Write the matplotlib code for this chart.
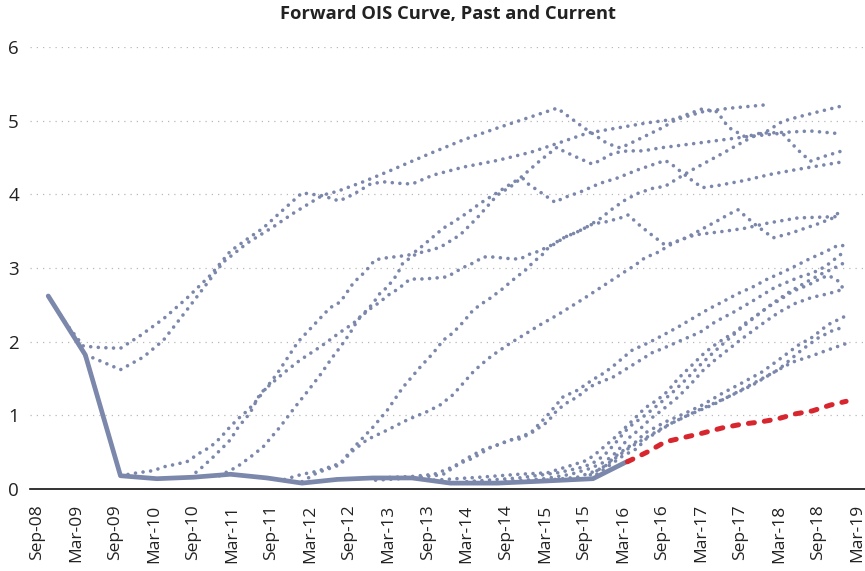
import matplotlib
matplotlib.use("Agg")
import matplotlib.pyplot as plt

# x values are months after Sep-2008, y values are percent
BLUE = "#7b87ab"
RED = "#d8262f"
GRID = "#b8b8b8"

TICK_LABELS = ["Sep-08", "Mar-09", "Sep-09", "Mar-10", "Sep-10", "Mar-11", "Sep-11",
               "Mar-12", "Sep-12", "Mar-13", "Sep-13", "Mar-14", "Sep-14", "Mar-15",
               "Sep-15", "Mar-16", "Sep-16", "Mar-17", "Sep-17", "Mar-18", "Sep-18", "Mar-19"]

# realised overnight rate
realised_t = [1.7, 7.4, 12.8, 18.4, 24.0, 29.7, 35.3, 40.7, 46.1, 51.6, 57.6, 63.5, 70.7, 78.4, 85.4, 90.8]
realised_v = [2.62, 1.82, 0.18, 0.14, 0.16, 0.20, 0.15, 0.08, 0.13, 0.15, 0.15, 0.08, 0.08, 0.11, 0.14, 0.38]

# current forward curve
current_t = [90.7, 93.7, 96.5, 102.3, 105.3, 108.3, 111.1, 113.7, 116.5, 119.1, 121.9, 124.3]
current_v = [0.37, 0.50, 0.64, 0.76, 0.83, 0.88, 0.91, 0.95, 1.02, 1.06, 1.14, 1.19]

# past forward curves
fwd_nov08_t = [1.7, 4.4, 7.1, 9.7, 12.8, 15.8, 19.4, 23.0, 26.6, 29.7, 32.7, 34.7, 37.8, 40.7, 43.9,
               46.4, 48.6, 51.2, 53.2, 55.5, 57.6, 60.8, 65.5, 70.7, 75.8, 79.9, 84.5, 89.1, 93.7,
               98.8, 102.2, 106.5, 112.6]
fwd_nov08_v = [2.62, 2.25, 1.94, 1.92, 1.91, 2.08, 2.31, 2.59, 2.90, 3.23, 3.42, 3.54, 3.79, 4.02, 3.98,
               3.91, 4.00, 4.14, 4.17, 4.15, 4.14, 4.26, 4.37, 4.46, 4.57, 4.69, 4.83, 4.90, 4.97,
               5.03, 5.12, 5.17, 5.22]

fwd_may09_t = [7.4, 8.6, 12.8, 16.3, 19.4, 23.0, 26.1, 28.6, 32.3, 36.3, 39.3, 43.9, 46.1, 50.1, 54.2,
               57.6, 60.8, 65.5, 70.7, 75.8, 79.9, 83.9, 87.6, 89.6, 91.1, 96.2, 98.8, 102.2, 104.5,
               106.2, 108.8, 111.1, 114.5, 118.8, 123.7]
fwd_may09_v = [1.80, 1.78, 1.62, 1.79, 2.02, 2.43, 2.79, 3.08, 3.34, 3.56, 3.74, 3.99, 4.04, 4.17, 4.32,
               4.45, 4.57, 4.74, 4.90, 5.05, 5.17, 4.91, 4.69, 4.63, 4.69, 4.91, 5.05, 5.16, 5.12,
               4.91, 4.78, 4.83, 4.84, 4.86, 4.82]

fwd_nov09_t = [12.8, 15.4, 17.9, 19.4, 21.0, 23.0, 25.0, 26.6, 28.1, 29.7, 31.2, 32.4, 33.8, 36.9, 40.1,
               43.5, 45.0, 46.6, 48.6, 50.4, 51.9, 53.8, 55.8, 57.3, 58.4, 60.4, 62.4, 63.9, 66.1,
               68.1, 70.1, 72.2, 74.2, 77.3, 79.9, 80.8, 83.0, 85.3, 86.5, 88.5, 90.7, 93.1, 95.7,
               101.9, 108.8, 114.5, 116.8, 118.8, 121.1, 123.7]
fwd_nov09_v = [0.18, 0.22, 0.25, 0.30, 0.33, 0.37, 0.49, 0.57, 0.69, 0.85, 0.98, 1.07, 1.21, 1.57, 2.00,
               2.32, 2.46, 2.54, 2.80, 2.95, 3.11, 3.14, 3.16, 3.18, 3.24, 3.39, 3.54, 3.62, 3.75,
               3.88, 3.99, 4.11, 4.22, 4.46, 4.64, 4.59, 4.50, 4.41, 4.46, 4.56, 4.59, 4.59, 4.63,
               4.70, 4.78, 4.83, 4.61, 4.45, 4.52, 4.59]

fwd_may10_t = [23.5, 25.4, 27.0, 28.6, 29.7, 30.9, 32.7, 34.3, 37.8, 40.4, 43.5, 46.6, 48.6, 50.7, 51.6,
               52.7, 53.8, 55.3, 56.2, 58.4, 59.9, 61.9, 65.0, 67.6, 70.7, 73.0, 74.5, 75.3, 77.3,
               79.6, 80.8, 83.4, 86.5, 89.1, 92.2, 96.5, 97.6, 100.3, 102.2, 104.6, 108.8, 112.6,
               116.9, 123.7]
fwd_may10_v = [0.16, 0.30, 0.43, 0.57, 0.67, 0.84, 1.03, 1.30, 1.57, 1.75, 1.93, 2.13, 2.25, 2.43, 2.52,
               2.66, 2.74, 2.91, 3.07, 3.20, 3.23, 3.28, 3.45, 3.68, 3.99, 4.12, 4.23, 4.15, 4.03,
               3.89, 3.95, 4.03, 4.15, 4.22, 4.33, 4.46, 4.40, 4.21, 4.09, 4.12, 4.19, 4.27,
               4.34, 4.44]

fwd_nov10_t = [28.0, 30.7, 32.7, 34.7, 37.3, 39.6, 41.5, 43.5, 45.3, 46.6, 48.1, 49.3, 50.9, 52.7, 53.9,
               55.0, 55.8, 57.3, 58.9, 60.8, 63.0, 65.3, 67.3, 68.5, 69.9, 72.2, 74.2, 75.4, 76.8,
               78.8, 81.1, 83.0, 85.4, 87.6, 90.0, 90.8, 92.7, 94.7, 96.5, 98.5, 101.1, 105.7,
               108.8, 112.3, 116.9, 123.7]
fwd_nov10_v = [0.18, 0.30, 0.43, 0.57, 0.84, 1.11, 1.32, 1.55, 1.78, 1.93, 2.12, 2.30, 2.43, 2.54, 2.63,
               2.69, 2.74, 2.85, 2.85, 2.86, 2.88, 3.00, 3.08, 3.15, 3.15, 3.13, 3.12, 3.18, 3.22,
               3.30, 3.42, 3.49, 3.60, 3.63, 3.69, 3.72, 3.57, 3.43, 3.31, 3.37, 3.45, 3.50,
               3.54, 3.61, 3.68, 3.70]

fwd_mar12a_t = [38.0, 40.7, 43.0, 46.6, 48.6, 51.6, 53.8, 56.2, 58.9, 60.8, 62.4, 63.9, 65.5, 67.0, 68.4,
                69.6, 71.4, 73.4, 75.3, 76.1, 77.6, 78.5, 79.9, 81.1, 83.0, 84.5, 86.5, 88.5, 90.3,
                92.2, 94.5, 96.5, 98.5, 100.6, 103.1, 105.4, 107.6, 109.9, 112.2, 114.5, 116.9,
                120.0, 123.7]
fwd_mar12a_v = [0.13, 0.20, 0.24, 0.35, 0.56, 0.84, 1.07, 1.38, 1.66, 1.84, 2.02, 2.12, 2.27, 2.43, 2.52,
                2.59, 2.71, 2.86, 2.99, 3.07, 3.18, 3.27, 3.35, 3.42, 3.49, 3.56, 3.67, 3.81, 3.92,
                4.01, 4.08, 4.11, 4.22, 4.33, 4.45, 4.56, 4.67, 4.78, 4.86, 4.99, 5.05,
                5.12, 5.20]

fwd_mar12b_t = [40.7, 43.0, 46.6, 48.1, 50.7, 53.8, 56.9, 59.9, 61.9, 63.9, 65.5, 67.0, 68.1, 69.6, 70.7,
                72.7, 74.2, 77.3, 79.9, 81.9, 83.9, 86.5, 88.4, 90.3, 91.9, 93.4, 95.3, 97.6, 99.9,
                102.2, 104.5, 106.5, 107.7, 108.6, 110.6, 112.3, 113.1, 115.7, 118.0, 120.0, 122.3,
                123.7]
fwd_mar12b_v = [0.10, 0.22, 0.33, 0.49, 0.67, 0.80, 0.94, 1.05, 1.14, 1.28, 1.44, 1.59, 1.68, 1.79, 1.86,
                1.98, 2.06, 2.23, 2.36, 2.47, 2.58, 2.73, 2.84, 2.95, 3.04, 3.14, 3.21, 3.33, 3.42,
                3.53, 3.64, 3.74, 3.79, 3.72, 3.57, 3.46, 3.41, 3.47, 3.54, 3.60, 3.68,
                3.80]

fwd_sep12_t = [46.0, 52.0, 57.6, 61.0, 63.9, 66.1, 68.4, 70.8, 73.0, 74.2, 76.1, 78.4, 79.9, 81.4, 83.0,
               85.0, 86.5, 88.5, 90.7, 92.7, 94.5, 96.2, 98.5, 101.9, 104.2, 107.0, 109.9, 113.4,
               117.2, 119.1, 121.1, 123.7]
fwd_sep12_v = [0.13, 0.15, 0.17, 0.20, 0.30, 0.42, 0.53, 0.60, 0.67, 0.68, 0.77, 0.91, 1.07, 1.17, 1.25,
               1.39, 1.45, 1.52, 1.64, 1.75, 1.85, 1.91, 2.00, 2.13, 2.27, 2.40, 2.55, 2.74,
               2.88, 2.93, 3.02, 3.20]

fwd_mar13_t = [52.0, 57.6, 61.0, 62.4, 65.0, 67.0, 69.6, 71.9, 75.8, 78.4, 80.8, 83.0, 85.3, 87.0, 88.4,
               90.0, 91.5, 93.1, 94.7, 96.2, 98.5, 100.6, 103.1, 105.3, 107.6, 109.9, 112.2, 114.5,
               116.8, 118.8, 121.1, 123.1, 124.3]
fwd_mar13_v = [0.12, 0.15, 0.18, 0.20, 0.35, 0.42, 0.56, 0.64, 0.76, 1.00, 1.25, 1.34, 1.48, 1.57, 1.66,
               1.78, 1.89, 1.95, 2.02, 2.09, 2.20, 2.31, 2.44, 2.54, 2.65, 2.74, 2.85, 2.94,
               3.04, 3.13, 3.22, 3.31, 3.30]

fwd_sep13_t = [61.0, 68.0, 74.0, 78.4, 82.4, 84.5, 86.0, 88.4, 90.8, 93.4, 95.3, 96.8, 98.5, 100.6, 102.2,
               103.7, 105.7, 107.3, 108.8, 110.3, 112.3, 114.5, 116.0, 118.5, 120.0, 121.5, 122.9, 124.2]
fwd_sep13_v = [0.12, 0.16, 0.20, 0.22, 0.33, 0.39, 0.49, 0.67, 0.87, 1.10, 1.21, 1.32, 1.50, 1.68, 1.82,
               1.93, 2.05, 2.13, 2.25, 2.34, 2.47, 2.59, 2.68, 2.77, 2.84, 2.90, 2.84, 2.68]

fwd_mar14_t = [66.0, 74.0, 80.0, 84.0, 86.0, 87.6, 89.0, 90.3, 91.5, 93.4, 95.5, 97.5, 99.5, 101.6, 103.5,
               105.5, 108.0, 110.5, 113.0, 115.5, 118.0, 120.5, 122.5, 124.2]
fwd_mar14_v = [0.10, 0.15, 0.22, 0.30, 0.38, 0.50, 0.64, 0.78, 0.88, 1.00, 1.15, 1.30, 1.47, 1.66, 1.82,
               1.98, 2.17, 2.35, 2.52, 2.67, 2.80, 2.92, 3.00, 3.08]

fwd_sep14_t = [72.0, 78.0, 82.0, 85.0, 87.0, 88.4, 89.6, 91.0, 92.7, 94.2, 96.0, 98.5, 100.6, 102.2, 104.0,
               106.0, 108.0, 110.0, 112.0, 114.0, 116.5, 119.0, 121.5, 124.2]
fwd_sep14_v = [0.10, 0.14, 0.20, 0.28, 0.36, 0.45, 0.56, 0.70, 0.82, 0.95, 1.07, 1.25, 1.44, 1.60, 1.74,
               1.88, 2.02, 2.15, 2.28, 2.40, 2.52, 2.60, 2.65, 2.72]

fwd_mar15_t = [78.4, 83.0, 86.0, 87.6, 88.5, 90.0, 92.0, 93.4, 96.5, 99.6, 102.2, 105.3, 108.3, 111.4,
               114.5, 116.9, 119.1, 121.5, 124.5]
fwd_mar15_v = [0.12, 0.16, 0.25, 0.33, 0.42, 0.52, 0.64, 0.76, 0.91, 1.03, 1.14, 1.30, 1.44, 1.59,
               1.79, 1.95, 2.06, 2.23, 2.36]

fwd_sep15_t = [84.0, 87.0, 88.4, 89.6, 91.0, 92.7, 94.2, 96.5, 100.0, 104.0, 108.3, 113.9, 117.5, 120.0,
               122.2, 124.0]
fwd_sep15_v = [0.14, 0.30, 0.39, 0.47, 0.56, 0.65, 0.73, 0.85, 1.00, 1.15, 1.35, 1.62, 1.89, 2.05,
               2.15, 2.20]

fwd_dec15_t = [86.0, 88.4, 90.0, 92.2, 93.4, 97.6, 101.6, 105.7, 109.9, 112.9, 116.0, 119.1, 122.2, 124.5]
fwd_dec15_v = [0.20, 0.35, 0.45, 0.55, 0.67, 0.90, 1.07, 1.23, 1.41, 1.57, 1.72, 1.81, 1.91, 1.98]

past_curves = [
    (fwd_nov08_t, fwd_nov08_v), (fwd_may09_t, fwd_may09_v), (fwd_nov09_t, fwd_nov09_v),
    (fwd_may10_t, fwd_may10_v), (fwd_nov10_t, fwd_nov10_v), (fwd_mar12a_t, fwd_mar12a_v),
    (fwd_mar12b_t, fwd_mar12b_v), (fwd_sep12_t, fwd_sep12_v), (fwd_mar13_t, fwd_mar13_v),
    (fwd_sep13_t, fwd_sep13_v), (fwd_mar14_t, fwd_mar14_v), (fwd_sep14_t, fwd_sep14_v),
    (fwd_mar15_t, fwd_mar15_v), (fwd_sep15_t, fwd_sep15_v), (fwd_dec15_t, fwd_dec15_v),
]

plt.rcParams["font.family"] = ["Open Sans", "DejaVu Sans"]

fig = plt.figure(figsize=(8.65, 5.71), dpi=100)
ax = fig.add_axes([0.0347, 0.1436, 0.9653, 0.7741])

for y in range(1, 7):
    ax.axhline(y, color=GRID, lw=0.9, linestyle=(0, (1, 4)), zorder=1)

ax.plot(realised_t, realised_v, color=BLUE, lw=3.4, solid_capstyle="round", zorder=2)

for t, v in past_curves:
    ax.plot(t, v, color=BLUE, lw=2.6, linestyle=(0, (0.01, 2.1)),
            dash_capstyle="round", zorder=3)

ax.plot(current_t, current_v, color=RED, lw=3.6, linestyle=(0, (1.2, 2.0)),
        dash_capstyle="round", zorder=4)

ax.set_xlim(-1.1, 127.2)
ax.set_ylim(0, 6)
ax.set_xticks(range(0, 127, 6))
ax.set_xticklabels(TICK_LABELS, rotation=90, fontsize=12.5, color="#222222")
ax.set_yticks(range(0, 7))
ax.set_yticklabels([str(i) for i in range(0, 7)], fontsize=13.5, color="#222222")
ax.tick_params(axis="x", length=0, pad=11)
ax.tick_params(axis="y", length=0, pad=8)
ax.spines[["top", "right", "left"]].set_visible(False)
ax.spines["bottom"].set_color("#111111")
ax.spines["bottom"].set_linewidth(1.2)

fig.text(0.518, 0.976, "Forward OIS Curve, Past and Current", ha="center", va="center",
         fontsize=13.2, fontweight="bold", color="#222222")

fig.savefig("out.png", dpi=100, facecolor="white")
